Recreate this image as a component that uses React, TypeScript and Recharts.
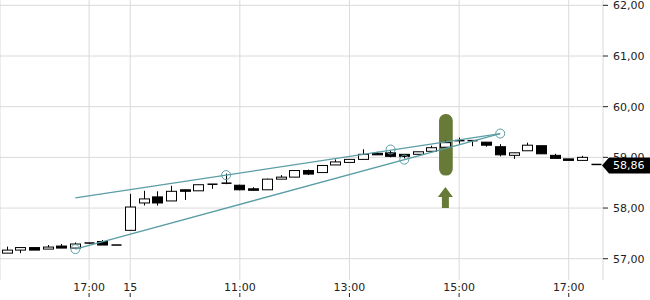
import {
  Bar,
  BarChart,
  CartesianGrid,
  ReferenceArea,
  ReferenceDot,
  ReferenceLine,
  XAxis,
  YAxis,
} from "recharts";

const TIMES = [
  "15:30", "15:45", "16:00", "16:15", "16:30", "16:45", "17:00", "17:15", "17:30",
  "09:00", "09:15", "09:30", "09:45", "10:00", "10:15", "10:30", "10:45",
  "11:00", "11:15", "11:30", "11:45", "12:00", "12:15", "12:30", "12:45",
  "13:00", "13:15", "13:30", "13:45", "14:00", "14:15", "14:30", "14:45",
  "15:00", "15:15", "15:30", "15:45", "16:00", "16:15", "16:30", "16:45",
  "17:00", "17:15", "17:30",
];

const OPENS = [
  57.11, 57.17, 57.22, 57.19, 57.25, 57.21, 57.31, 57.34, 57.27,
  57.56, 58.1, 58.22, 58.14, 58.36, 58.34, 58.47, 58.47,
  58.45, 58.38, 58.36, 58.57, 58.61, 58.74, 58.7, 58.85,
  58.9, 58.96, 59.08, 59.09, 59.06, 59.06, 59.12, 59.2,
  59.33, 59.33, 59.3, 59.21, 59.04, 59.13, 59.23, 59.04,
  58.97, 58.94, 58.86,
];
const HIGHS = [
  57.24, 57.22, 57.22, 57.27, 57.29, 57.32, 57.31, 57.37, 57.27,
  58.28, 58.34, 58.33, 58.44, 58.36, 58.46, 58.47, 58.68,
  58.46, 58.41, 58.58, 58.65, 58.74, 58.76, 58.84, 58.96,
  58.96, 59.16, 59.11, 59.13, 59.06, 59.11, 59.23, 59.33,
  59.39, 59.33, 59.3, 59.26, 59.09, 59.29, 59.23, 59.07,
  58.97, 59.03, 58.86,
];
const LOWS = [
  57.11, 57.11, 57.17, 57.19, 57.21, 57.21, 57.29, 57.27, 57.27,
  57.56, 58.05, 58.05, 58.14, 58.16, 58.34, 58.38, 58.47,
  58.35, 58.35, 58.36, 58.57, 58.61, 58.65, 58.7, 58.85,
  58.9, 58.96, 59.05, 59.0, 58.98, 59.06, 59.12, 59.2,
  59.27, 59.22, 59.21, 59.02, 58.97, 59.13, 59.07, 58.98,
  58.94, 58.94, 58.86,
];
const CLOSES = [
  57.17, 57.22, 57.17, 57.23, 57.21, 57.29, 57.29, 57.27, 57.27,
  58.02, 58.18, 58.1, 58.33, 58.33, 58.46, 58.45, 58.49,
  58.36, 58.35, 58.57, 58.61, 58.74, 58.67, 58.84, 58.91,
  58.96, 59.06, 59.05, 59.02, 59.02, 59.11, 59.19, 59.29,
  59.33, 59.31, 59.24, 59.05, 59.09, 59.24, 59.07, 58.98,
  58.94, 59.0, 58.86,
];

// x-axis labels: index -> text
const TICK_INDEXES = [6, 9, 17, 25, 33, 41];
const TICK_LABELS = ["17:00", "15", "11:00", "13:00", "15:00", "17:00"];
const PRICE_TICKS = [57, 58, 59, 60, 61, 62];
const LAST_PRICE = 58.86;

// trend channel anchors (index, price)
const UPPER_LINE = [
  { x: 5, y: 58.2 },
  { x: 36, y: 59.47 },
];
const LOWER_LINE = [
  { x: 5, y: 57.19 },
  { x: 36, y: 59.47 },
];
const ANCHORS = [
  { x: 5, y: 57.19 },
  { x: 16, y: 58.65 },
  { x: 28, y: 59.155 },
  { x: 29, y: 58.955 },
  { x: 36, y: 59.47 },
];

const SIGNAL_INDEX = 32;
const SIGNAL_RANGE = [58.64, 59.855];
const SIGNAL_ARROW_TOP = 58.415;

const TEAL = "#5b9da5";
const OLIVE = "#687a37";
const GRID = "#dadada";
const FONT = "'DejaVu Sans', sans-serif";

const data = TIMES.map((t, i) => ({
  i,
  t,
  open: OPENS[i],
  high: HIGHS[i],
  low: LOWS[i],
  close: CLOSES[i],
  range: [LOWS[i], HIGHS[i]],
}));

const fmt = (v: number) => v.toFixed(2).replace(".", ",");

function Candle(props: any) {
  const { x, y, width, height, payload } = props;
  const top = Math.min(y, y + height);
  const h = Math.abs(height);
  const span = payload.high - payload.low;
  const yOf = (v: number) => (span > 0 ? top + ((payload.high - v) / span) * h : top);
  const cx = Math.round(x + width / 2) + 0.5;
  const bodyTop = yOf(Math.max(payload.open, payload.close));
  const bodyBot = yOf(Math.min(payload.open, payload.close));
  const up = payload.close >= payload.open;
  const left = cx - 5;
  return (
    <g>
      <line x1={cx} x2={cx} y1={top} y2={top + h} stroke="#000" strokeWidth={1} />
      {bodyBot - bodyTop < 1.5 ? (
        <line x1={left} x2={left + 10} y1={bodyTop} y2={bodyTop} stroke="#000" strokeWidth={1.5} />
      ) : (
        <rect
          x={left}
          y={bodyTop}
          width={10}
          height={bodyBot - bodyTop}
          fill={up ? "#fff" : "#000"}
          stroke="#000"
          strokeWidth={1}
        />
      )}
    </g>
  );
}

function XTick(props: any) {
  const { x, y, payload } = props;
  const k = TICK_INDEXES.indexOf(payload.value);
  return (
    <g>
      <text x={x} y={y + 11} textAnchor="middle" fontSize={11} fontFamily={FONT} fill="#222">
        {k >= 0 ? TICK_LABELS[k] : ""}
      </text>
      <line x1={x} x2={x} y1={y + 13} y2={y + 17} stroke="#222" />
    </g>
  );
}

function YTick(props: any) {
  const { x, y, payload } = props;
  if (payload.value === LAST_PRICE) {
    const cy = y + 1;
    return (
      <g>
        <path
          d={`M${x - 1},${cy} L${x + 6},${cy - 8} L650,${cy - 8} L650,${cy + 8} L${x + 6},${cy + 8} Z`}
          fill="#000"
        />
        <text x={x + 10} y={cy + 4} fontSize={11} fontFamily={FONT} fill="#fff">
          {fmt(payload.value)}
        </text>
      </g>
    );
  }
  return (
    <g>
      <line x1={x} x2={x + 5} y1={y} y2={y} stroke="#222" />
      <text x={x + 10} y={y + 4} fontSize={11} fontFamily={FONT} fill="#222">
        {fmt(payload.value)}
      </text>
    </g>
  );
}

function SignalBar(props: any) {
  const { x, y, width, height } = props;
  return <rect x={x + 0.5} y={y} width={width} height={height} rx={6.5} fill={OLIVE} />;
}

function SignalArrow(props: any) {
  const { cx, cy } = props;
  const d = `M${cx},${cy} L${cx + 7.5},${cy + 10} L${cx + 3.5},${cy + 10} L${cx + 3.5},${cy + 21} L${cx - 3.5},${cy + 21} L${cx - 3.5},${cy + 10} L${cx - 7.5},${cy + 10} Z`;
  return <path d={d} fill={OLIVE} />;
}

export default function App() {
  return (
    <div style={{ width: 650, height: 300, background: "#fff" }}>
      <style>{"body{margin:0}"}</style>
      <BarChart
        width={650}
        height={300}
        data={data}
        margin={{ top: 0, right: 0, bottom: 0, left: 0 }}
        barCategoryGap={0}
      >
        <CartesianGrid stroke={GRID} horizontalValues={PRICE_TICKS} />
        <XAxis
          dataKey="i"
          type="category"
          ticks={TICK_INDEXES}
          interval={0}
          height={20}
          axisLine={false}
          tickLine={false}
          tickSize={0}
          tickMargin={0}
          tick={<XTick />}
        />
        <YAxis
          orientation="right"
          type="number"
          domain={[56.58, 62.105]}
          ticks={[...PRICE_TICKS, LAST_PRICE]}
          interval={0}
          width={47}
          axisLine={false}
          tickLine={false}
          tickSize={0}
          tickMargin={0}
          tick={<YTick />}
        />
        <ReferenceArea
          x1={SIGNAL_INDEX}
          x2={SIGNAL_INDEX}
          y1={SIGNAL_RANGE[0]}
          y2={SIGNAL_RANGE[1]}
          shape={<SignalBar />}
          zIndex={-50}
        />
        <ReferenceDot
          x={SIGNAL_INDEX}
          y={SIGNAL_ARROW_TOP}
          r={1}
          shape={<SignalArrow />}
        />
        <Bar
          dataKey="range"
          barSize={11}
          shape={<Candle />}
          isAnimationActive={false}
          zIndex={500}
        />
        <ReferenceLine segment={UPPER_LINE} stroke={TEAL} strokeWidth={1.3} zIndex={600} />
        <ReferenceLine segment={LOWER_LINE} stroke={TEAL} strokeWidth={1.3} zIndex={600} />
        {ANCHORS.map((a, k) => (
          <ReferenceDot
            key={k}
            x={a.x}
            y={a.y}
            r={4.5}
            fill="none"
            stroke={TEAL}
            strokeWidth={1}
            zIndex={700}
          />
        ))}
      </BarChart>
    </div>
  );
}
